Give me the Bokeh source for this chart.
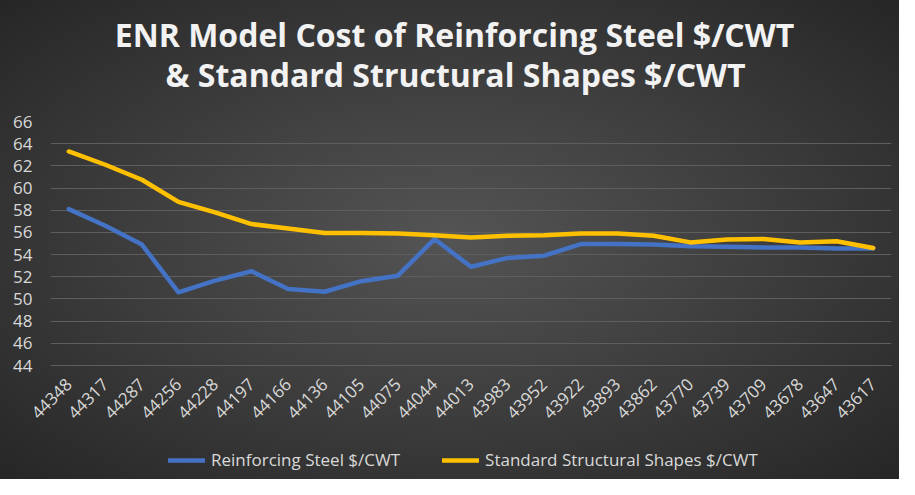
import math
from bokeh.plotting import figure
from bokeh.layouts import column
from bokeh.models import FactorRange, Range1d, FixedTicker, Label, Legend, LegendItem
from bokeh.embed import file_html
from bokeh.resources import INLINE

categories = ["44348", "44317", "44287", "44256", "44228", "44197", "44166", "44136",
              "44105", "44075", "44044", "44013", "43983", "43952", "43922", "43893",
              "43862", "43770", "43739", "43709", "43678", "43647", "43617"]
reinforcing_steel = [58.1, 56.6, 54.9, 50.6, 51.65, 52.5, 50.9, 50.65, 51.6, 52.1, 55.4,
                     52.9, 53.7, 53.9, 54.95, 54.95, 54.9, 54.75, 54.7, 54.65, 54.65, 54.55, 54.55]
structural_shapes = [63.3, 62.1, 60.75, 58.75, 57.8, 56.75, 56.35, 55.95, 55.95, 55.9, 55.75,
                     55.55, 55.7, 55.75, 55.9, 55.9, 55.7, 55.1, 55.35, 55.4, 55.1, 55.2, 54.6]
y_ticks = list(range(44, 67, 2))
series_names = ["Reinforcing Steel $/CWT", "Standard Structural Shapes $/CWT"]
title_lines = ["ENR Model Cost of Reinforcing Steel $/CWT", "& Standard Structural Shapes $/CWT"]

FONT = "Open Sans"
LABEL = "#d9d9d9"
GRID = "#5e5e5e"
BLUE = "#4472C4"
GOLD = "#FFC000"
W = 899


def strip(height):
    f = figure(width=W, height=height, output_backend="svg", toolbar_location=None,
               x_range=Range1d(0, 1), y_range=Range1d(0, 1), x_axis_type=None, y_axis_type=None,
               min_border=0, title=None)
    f.background_fill_alpha = 0
    f.border_fill_alpha = 0
    f.outline_line_color = None
    f.grid.grid_line_color = None
    return f


# title strip
TH = 109
tt = strip(TH)
tt.add_layout(Label(x=404, y=TH - 44.7 + 11, x_units="screen", y_units="screen", text=title_lines[0],
                    text_align="center", text_baseline="alphabetic", text_font=FONT,
                    text_font_size="32px", text_font_style="bold", text_color="#f2f2f2"))
tt.add_layout(Label(x=405, y=TH - 85.3 + 11, x_units="screen", y_units="screen", text=title_lines[1],
                    text_align="center", text_baseline="alphabetic", text_font=FONT,
                    text_font_size="32px", text_font_style="bold", text_color="#f2f2f2"))

# main chart
p = figure(width=W, height=326, output_backend="svg", toolbar_location=None,
           x_range=FactorRange(*categories, range_padding=0),
           y_range=Range1d(44, 66), title=None,
           min_border_left=50, min_border_right=8, min_border_top=12, min_border_bottom=70)
p.background_fill_alpha = 0
p.border_fill_alpha = 0
p.outline_line_color = None

r1 = p.line(categories, reinforcing_steel, line_color=BLUE, line_width=4.5,
            line_join="round", line_cap="round")
r2 = p.line(categories, structural_shapes, line_color=GOLD, line_width=4.5,
            line_join="round", line_cap="round")

p.yaxis.ticker = FixedTicker(ticks=y_ticks)
p.yaxis.axis_line_color = None
p.yaxis.major_tick_line_color = None
p.yaxis.minor_tick_line_color = None
p.yaxis.major_label_standoff = 12
p.yaxis.major_label_text_font = FONT
p.yaxis.major_label_text_font_size = "17px"
p.yaxis.major_label_text_color = LABEL

p.xaxis.axis_line_color = GRID
p.xaxis.major_tick_line_color = None
p.xaxis.major_label_orientation = math.pi / 4
p.xaxis.major_label_standoff = 10
p.xaxis.major_label_text_font = FONT
p.xaxis.major_label_text_font_size = "17px"
p.xaxis.major_label_text_color = LABEL

p.xgrid.grid_line_color = None
p.ygrid.grid_line_color = GRID
p.ygrid.grid_line_width = 1.2

# legend strip (proxy lines use the same data, drawn outside the strip's view)
lg = figure(width=W, height=44, output_backend="svg", toolbar_location=None,
            x_range=FactorRange(*categories, range_padding=0), y_range=Range1d(0, 1),
            x_axis_type=None, y_axis_type=None, min_border=0, title=None)
lg.background_fill_alpha = 0
lg.border_fill_alpha = 0
lg.outline_line_color = None
lg.grid.grid_line_color = None
k1 = lg.line(categories, reinforcing_steel, line_color=BLUE, line_width=4.5, line_cap="round")
k2 = lg.line(categories, structural_shapes, line_color=GOLD, line_width=4.5, line_cap="round")
legend = Legend(items=[LegendItem(label=series_names[0], renderers=[k1]),
                       LegendItem(label=series_names[1], renderers=[k2])],
                orientation="horizontal", location=(118, 8),
                background_fill_alpha=0, border_line_color=None,
                label_text_font=FONT, label_text_font_size="17px", label_text_color=LABEL,
                glyph_width=37, label_standoff=6, spacing=42, margin=0, padding=2)
lg.add_layout(legend, "center")

layout = column(tt, p, lg, spacing=0)
layout.styles = {"background": "radial-gradient(ellipse at 50% 50%, #545454 0%, #424242 40%, #262626 100%)"}

open("out.html", "w").write(file_html(layout, INLINE))
